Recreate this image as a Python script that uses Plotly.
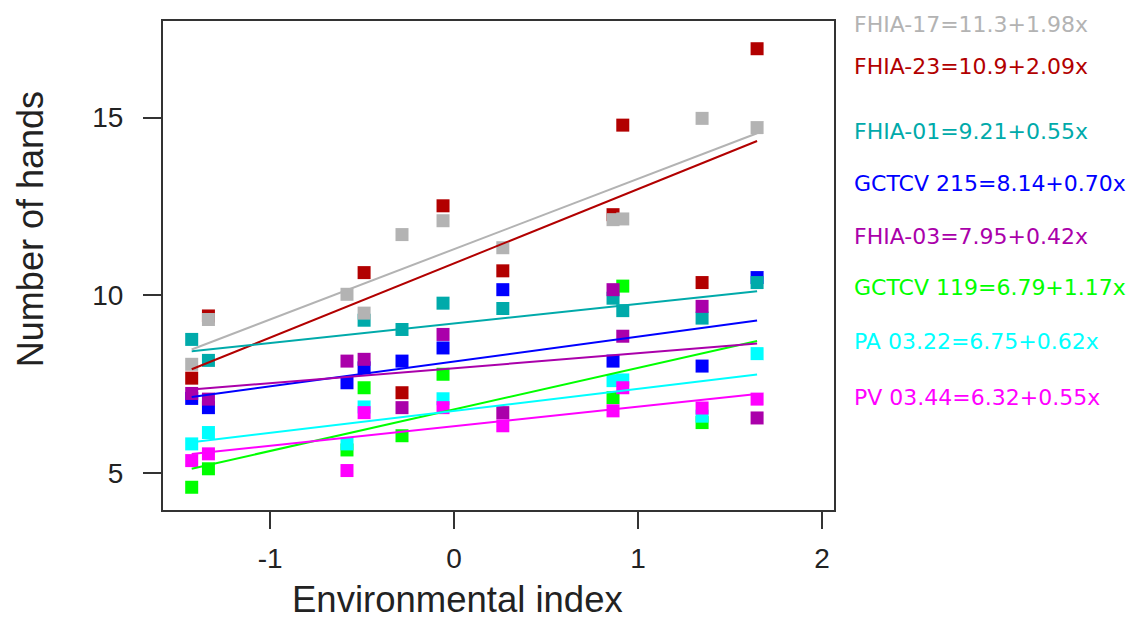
import plotly.graph_objects as go

# ---- data ----
env_index = [-1.426, -1.335, -0.582, -0.489, -0.283, -0.060, 0.265, 0.864, 0.917, 1.348, 1.647]

fhia17 = [8.06, 9.32, 10.03, 9.50, 11.71, 12.10, 11.34, 12.13, 12.15, 14.98, 14.72]
fhia23 = [7.67, 9.42, None, 10.64, 7.26, 12.52, 10.69, 12.27, 14.79, 10.36, 16.94]
fhia01 = [8.76, 8.17, None, 9.30, 9.04, 9.78, 9.63, 9.92, 9.57, 9.36, 10.36]
gctcv215 = [7.10, 6.84, 7.54, 7.96, 8.15, 8.52, 10.16, 8.15, None, 8.01, 10.50]
fhia03 = [7.24, 7.08, 8.15, 8.20, 6.84, 8.90, 6.70, 10.16, 8.85, 9.69, 6.55]
gctcv119 = [4.60, 5.12, 5.65, 7.40, 6.05, 7.78, None, 7.12, 10.26, 6.42, None]
pa0322 = [5.82, 6.14, 5.82, 6.86, None, 7.09, None, 7.60, 7.62, 6.60, 8.36]
pv0344 = [5.35, 5.54, 5.07, 6.70, None, 6.84, 6.33, 6.75, 7.40, 6.83, 7.08]

labels = ["FHIA-17=11.3+1.98x", "FHIA-23=10.9+2.09x", "FHIA-01=9.21+0.55x",
          "GCTCV 215=8.14+0.70x", "FHIA-03=7.95+0.42x", "GCTCV 119=6.79+1.17x",
          "PA 03.22=6.75+0.62x", "PV 03.44=6.32+0.55x"]
intercepts = [11.3, 10.9, 9.21, 8.14, 7.95, 6.79, 6.75, 6.32]
slopes = [1.98, 2.09, 0.55, 0.70, 0.42, 1.17, 0.62, 0.55]
series = [fhia17, fhia23, fhia01, gctcv215, fhia03, gctcv119, pa0322, pv0344]

x_ticks = [-1, 0, 1, 2]
x_tick_text = ["-1", "0", "1", "2"]
y_ticks = [5, 10, 15]

# ---- styling ----
colors = ["#b3b3b3", "#b20000", "#00aaaa", "#0000ff", "#aa00aa", "#00ff00", "#00ffff", "#ff00ff"]
draw_order = [3, 1, 2, 5, 6, 7, 4, 0]

# page offset (default body margin of the written html page)
OFF = 8
W, H = 1138 - OFF, 619 - OFF
L, R, T, B = 163 - OFF, 834 - OFF, 19 - OFF, 510 - OFF
pw, ph = R - L, B - T
label_y_px = [y - OFF for y in [23, 65, 130, 182, 235, 287, 341, 397]]

fig = go.Figure()

for i in draw_order:
    fig.add_trace(go.Scatter(
        x=env_index, y=series[i], mode="markers",
        marker=dict(symbol="square", size=13, color=colors[i], line=dict(width=0)),
        showlegend=False, hoverinfo="skip"))

xmin, xmax = min(env_index), max(env_index)
for i in draw_order:
    fig.add_trace(go.Scatter(
        x=[xmin, xmax],
        y=[intercepts[i] + slopes[i] * xmin, intercepts[i] + slopes[i] * xmax],
        mode="lines", line=dict(color=colors[i], width=2),
        showlegend=False, hoverinfo="skip"))

annotations = []
for i, lab in enumerate(labels):
    annotations.append(dict(
        text=lab, xref="paper", yref="paper",
        x=(852 - OFF - L) / pw, y=(B - label_y_px[i]) / ph,
        xanchor="left", yanchor="middle", showarrow=False,
        font=dict(family="DejaVu Sans", size=22, color=colors[i])))

annotations.append(dict(
    text="Number of hands", xref="paper", yref="paper",
    x=(30 - OFF - L) / pw, y=(B - (228 - OFF)) / ph, textangle=-90,
    xanchor="center", yanchor="middle", showarrow=False,
    font=dict(family="Liberation Sans", size=36, color="#222222")))
annotations.append(dict(
    text="Environmental index", xref="paper", yref="paper",
    x=(457 - OFF - L) / pw, y=(B - (600 - OFF)) / ph,
    xanchor="center", yanchor="middle", showarrow=False,
    font=dict(family="Liberation Sans", size=36.5, color="#222222")))

fig.update_layout(
    width=W, height=H,
    margin=dict(l=L, r=W - R, t=T, b=H - B, pad=0),
    paper_bgcolor="white", plot_bgcolor="white",
    annotations=annotations,
    xaxis=dict(range=[-1.582, 2.065], tickvals=x_ticks, ticktext=x_tick_text,
               ticks="outside", ticklen=17, tickwidth=2, tickcolor="#333333",
               showline=True, mirror=True, linecolor="#333333", linewidth=2,
               showgrid=False, zeroline=False, ticklabelstandoff=5,
               tickfont=dict(family="Liberation Sans", size=28, color="#222222")),
    yaxis=dict(range=[3.96, 17.72], tickvals=y_ticks, ticks="outside",
               ticklen=18, tickwidth=2, tickcolor="#333333",
               showline=True, mirror=True, linecolor="#333333", linewidth=2,
               showgrid=False, zeroline=False, ticklabelstandoff=14,
               tickfont=dict(family="Liberation Sans", size=28, color="#222222")),
)

fig.write_html("out.html")
